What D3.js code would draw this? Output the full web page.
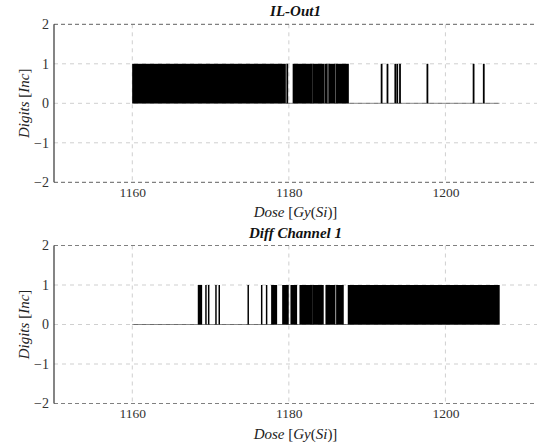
<!DOCTYPE html>
<html><head><meta charset="utf-8">
<script src="https://cdn.jsdelivr.net/npm/d3@7"></script>
<style>
body{margin:0;background:#fff;}
svg{display:block;}
</style></head>
<body>
<script>
// ---- data ----
const xTicks = [1160, 1180, 1200];
const yTicks = [-2, -1, 0, 1, 2];
const titles = ["IL-Out1", "Diff Channel 1"];
// signal span (value 0 baseline) for each channel
const topSpan = [1160.0, 1206.9];
const bottomSpan = [1160.0, 1206.9];
// intervals where the signal is 1 (dense toggling appears as solid blocks)
const topHigh = [
  [1160.05, 1179.55], [1179.75, 1179.85], [1180.55, 1183.0], [1183.15, 1184.5],
  [1184.65, 1184.9], [1185.1, 1185.9], [1186.05, 1187.6],
  [1191.8, 1191.9], [1192.55, 1192.65], [1193.55, 1193.65], [1193.8, 1193.9],
  [1194.15, 1194.25], [1197.65, 1197.75], [1203.55, 1203.65], [1204.85, 1204.95]
];
const bottomHigh = [
  [1168.43, 1168.86], [1169.38, 1169.44], [1169.73, 1169.79], [1170.66, 1170.72],
  [1171.08, 1171.14], [1174.78, 1174.84], [1176.5, 1176.56], [1177.13, 1177.19],
  [1177.8, 1178.44], [1179.21, 1179.92], [1180.27, 1180.99], [1181.42, 1182.91],
  [1183.04, 1184.39], [1184.74, 1185.89], [1186.1, 1186.95], [1187.59, 1206.87]
];

const FONT = '"Liberation Serif", "DejaVu Serif", serif';
const W = 537, H = 443;
const svg = d3.select("body").append("svg").attr("width", W).attr("height", H);

const x = d3.scaleLinear().domain([1150, 1211.7]).range([54, 537]);

function panel(top, title, span, highs) {
  const y = d3.scaleLinear().domain([-2, 2]).range([top + 158, top]);
  const g = svg.append("g");
  // grid
  g.append("g").selectAll("line").data(xTicks).join("line")
    .attr("x1", d => x(d)).attr("x2", d => x(d))
    .attr("y1", y(2)).attr("y2", y(-2))
    .attr("stroke", "#cfcfcf").attr("stroke-width", 1).attr("stroke-dasharray", "4,4");
  g.append("g").selectAll("line").data(yTicks.filter(d => d > -2 && d < 2)).join("line")
    .attr("x1", x.range()[0]).attr("x2", x.range()[1])
    .attr("y1", d => y(d)).attr("y2", d => y(d))
    .attr("stroke", "#cfcfcf").attr("stroke-width", 1).attr("stroke-dasharray", "4,4");
  // top / bottom frame dashed
  [2, -2].forEach(v => {
    g.append("line").attr("x1", x.range()[0]).attr("x2", x.range()[1])
      .attr("y1", y(v)).attr("y2", y(v))
      .attr("stroke", "#808080").attr("stroke-width", 1.2).attr("stroke-dasharray", "4,3");
  });
  // signal baseline
  g.append("line").attr("x1", x(span[0])).attr("x2", x(span[1]))
    .attr("y1", y(0)).attr("y2", y(0))
    .attr("stroke", "#000").attr("stroke-width", 0.6).attr("stroke-opacity", 0.8);
  // high intervals
  g.append("g").selectAll("rect").data(highs).join("rect")
    .attr("x", d => x(d[0]) - 0.5)
    .attr("width", d => Math.max(1, x(d[1]) - x(d[0]) + 1))
    .attr("y", y(1)).attr("height", y(0) - y(1))
    .attr("fill", "#000");
  // left spine
  g.append("line").attr("x1", 54).attr("x2", 54).attr("y1", y(2)).attr("y2", y(-2))
    .attr("stroke", "#333").attr("stroke-width", 1.2);
  // y ticks
  const yAxis = d3.axisLeft(y).tickValues(yTicks).tickSize(0).tickPadding(5)
    .tickFormat(d => d < 0 ? "\u2212" + Math.abs(d) : String(d));
  const ya = g.append("g").attr("transform", "translate(54,0)").call(yAxis)
    .attr("font-family", null).attr("font-size", null);
  ya.select(".domain").remove();
  ya.selectAll("text").style("font-family", FONT).style("font-size", "14px").attr("fill", "#333");
  // x ticks
  const xAxis = d3.axisBottom(x).tickValues(xTicks).tickSize(0).tickPadding(5)
    .tickFormat(d3.format("d"));
  const xa = g.append("g").attr("transform", `translate(0,${y(-2)})`).call(xAxis)
    .attr("font-family", null).attr("font-size", null);
  xa.select(".domain").remove();
  xa.selectAll("text").style("font-family", FONT).style("font-size", "13.5px").attr("fill", "#333");
  // title
  g.append("text").attr("x", 295.5).attr("y", top - 8).attr("text-anchor", "middle")
    .style("font-family", FONT).attr("fill", "#111")
    .style("font-size", "15px").style("font-style", "italic").style("font-weight", "bold")
    .text(title);
  // x label
  const xl = g.append("text").attr("x", 295.5).attr("y", y(-2) + 35).attr("text-anchor", "middle")
    .style("font-family", FONT).attr("fill", "#222").style("font-size", "15px");
  [["Dose", 1], [" [", 0], ["Gy", 1], ["(", 0], ["Si", 1], [")]", 0]].forEach(p =>
    xl.append("tspan").style("font-style", p[1] ? "italic" : "normal").text(p[0]));
  // y label
  const yl = g.append("text").attr("transform", `translate(29,${y(0)}) rotate(-90)`)
    .attr("text-anchor", "middle").style("font-family", FONT).attr("fill", "#222").style("font-size", "15px");
  [["Digits", 1], [" [", 0], ["Inc", 1], ["]", 0]].forEach(p =>
    yl.append("tspan").style("font-style", p[1] ? "italic" : "normal").text(p[0]));
}

panel(24.3, titles[0], topSpan, topHigh);
panel(245.5, titles[1], bottomSpan, bottomHigh);
</script>
</body></html>
